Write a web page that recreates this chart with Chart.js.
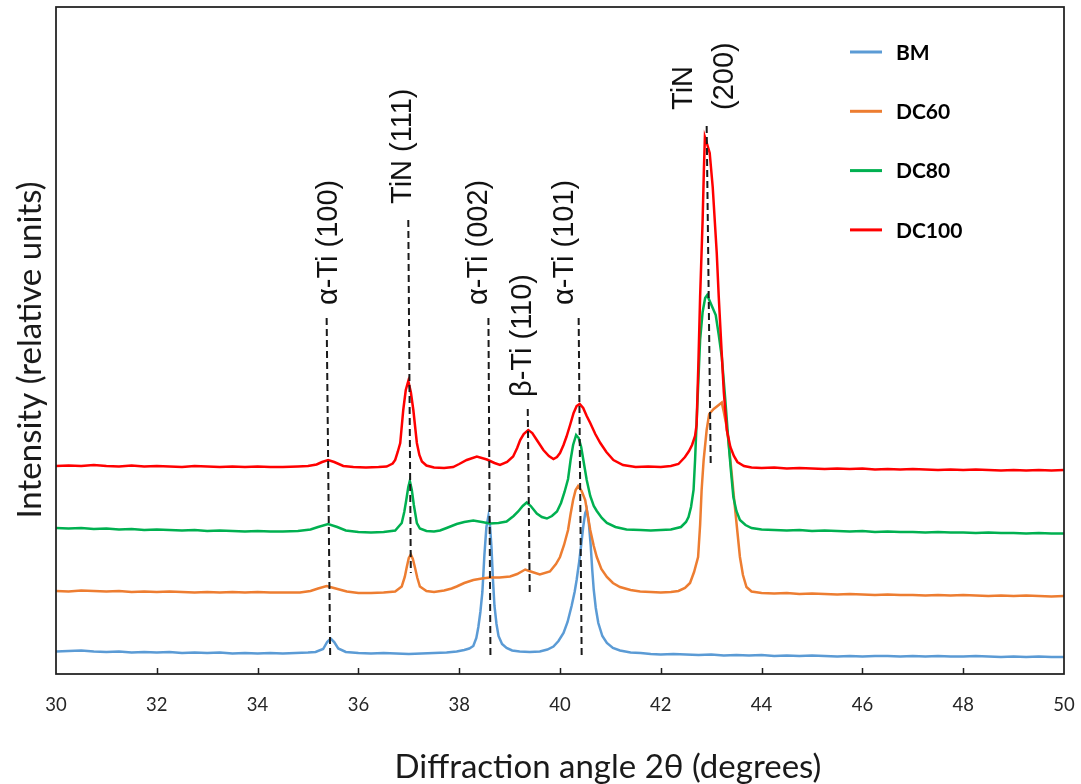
<!DOCTYPE html>
<html>
<head>
<meta charset="utf-8">
<title>XRD patterns</title>
<script src="https://cdn.jsdelivr.net/npm/chart.js@4/dist/chart.umd.min.js"></script>
<style>
  html, body { margin: 0; padding: 0; background: #ffffff; }
  #wrap { width: 1081px; height: 784px; }
</style>
</head>
<body>
<div id="wrap"><canvas id="xrd" width="1081" height="784"></canvas></div>
<script>
// Diffraction patterns: [2θ (degrees), intensity (relative units, stacked)]
const BM = [
  [30,22.5],[30.25,23],[30.5,23.5],[30.75,22.5],[31,22],[31.25,22.5],[31.5,21.5],[31.75,22],[32,21.5],[32.25,22],
  [32.5,21],[32.75,21.5],[33,21],[33.25,21.5],[33.5,20.5],[33.75,21],[34,20.5],[34.25,21],[34.5,20.5],[34.75,21],
  [35,21.5],[35.15,22],[35.3,25],[35.38,32],[35.45,35.5],[35.52,32],[35.6,25.5],[35.75,22],[36,21],[36.25,20.5],
  [36.5,21],[36.75,20.5],[37,20],[37.25,20.5],[37.5,21],[37.75,21.5],[37.95,22.5],[38.1,24],[38.2,25.5],[38.28,28],
  [38.34,36],[38.38,47],[38.42,62],[38.46,82],[38.5,119],[38.54,147],[38.58,158],[38.61,149],[38.64,127],[38.67,94],
  [38.7,68],[38.74,50],[38.78,38],[38.85,30],[38.94,26],[39.05,23.5],[39.2,22.5],[39.4,22],[39.6,22.5],[39.75,24.5],
  [39.87,27.5],[39.97,33],[40.07,41],[40.15,52],[40.23,68],[40.29,82],[40.33,94],[40.38,112],[40.42,129],[40.46,147],
  [40.5,161],[40.53,164.5],[40.57,152],[40.61,128],[40.64,104],[40.67,84],[40.71,66],[40.76,51],[40.84,38],[40.93,31],
  [41.05,26],[41.19,23.5],[41.4,21.5],[41.6,21],[41.8,20],[42,19.5],[42.25,20],[42.5,19.5],[42.75,19],[43,19.5],
  [43.25,18.5],[43.5,19],[43.75,18.5],[44,19],[44.25,18],[44.5,18.5],[44.75,18],[45,18.5],[45.25,18],[45.5,17.5],
  [45.75,18],[46,17.5],[46.25,18],[46.5,18],[46.75,17.5],[47,18],[47.25,17.5],[47.5,18],[47.75,17.5],[48,17.5],
  [48.25,18],[48.5,17.5],[48.75,17],[49,17.5],[49.25,17],[49.5,17.5],[49.75,17],[50,17]
];

const DC60 = [
  [30,83],[30.25,82.5],[30.5,83.5],[30.75,83],[31,82.5],[31.25,83],[31.5,82],[31.75,82.5],[32,82],[32.25,82.5],
  [32.5,82],[32.75,81.5],[33,82],[33.25,81.5],[33.5,82],[33.75,81.5],[34,82],[34.25,81.5],[34.5,81.5],[34.84,81.5],
  [35.05,83],[35.2,85.5],[35.37,88],[35.55,85.5],[35.77,82.5],[36,81],[36.25,81],[36.5,81.5],[36.73,82.5],[36.86,87.5],
  [36.92,97],[36.96,107],[37,116],[37.04,119.5],[37.08,115],[37.12,107],[37.17,96],[37.22,87.5],[37.35,83],[37.5,82],
  [37.7,83.5],[37.85,85.5],[37.95,87.5],[38.1,91],[38.28,94],[38.45,95.5],[38.61,96.5],[38.8,96.5],[39.01,97.5],[39.15,100],
  [39.31,104.5],[39.45,102],[39.6,99.5],[39.8,102.5],[39.92,110],[40,117],[40.08,129],[40.16,144],[40.21,160],[40.26,174],
  [40.31,184],[40.36,188],[40.43,183],[40.5,174],[40.55,159],[40.6,144],[40.67,128],[40.73,117],[40.82,105],[40.93,97],
  [41.05,91],[41.19,87],[41.4,84],[41.59,82.5],[41.8,82],[42,81.5],[42.2,82],[42.35,83],[42.48,86],[42.58,91],
  [42.66,102],[42.74,117],[42.78,149],[42.81,184],[42.85,214],[42.91,244],[42.96,260],[43.05,265],[43.15,269],[43.21,271.5],
  [43.25,262],[43.3,249],[43.34,234],[43.4,204],[43.47,167],[43.52,142],[43.57,117],[43.63,99],[43.7,87],[43.8,82.5],
  [44,81],[44.25,80.5],[44.5,81],[44.75,80],[45,80.5],[45.25,80],[45.5,79.5],[45.75,80],[46,79.5],[46.25,79],
  [46.5,79.5],[46.75,79],[47,79],[47.25,78.5],[47.5,79],[47.75,78.5],[48,79],[48.25,78.5],[48.5,78],[48.75,78.5],
  [49,78],[49.25,78.5],[49.5,78],[49.75,77.5],[50,78]
];

const DC80 = [
  [30,146],[30.25,145.5],[30.5,146],[30.75,145],[31,145.5],[31.25,144.5],[31.5,145],[31.75,144],[32,144.5],[32.25,144],
  [32.5,143.5],[32.75,144],[33,143],[33.25,143.5],[33.5,143],[33.75,142.5],[34,143],[34.25,142.5],[34.5,142.5],[34.8,143],
  [35.05,144.5],[35.2,147],[35.4,150],[35.58,147],[35.75,143.5],[36,142],[36.25,141.5],[36.5,142],[36.73,143.5],[36.86,151],
  [36.91,162],[36.95,174],[36.99,187],[37.02,193],[37.06,184],[37.1,169],[37.16,151],[37.22,145.5],[37.35,143],[37.5,142.5],
  [37.62,143.5],[37.75,146],[37.95,150],[38.1,152],[38.28,153.5],[38.45,152],[38.61,150.5],[38.78,151],[38.94,152.5],[39.08,158],
  [39.17,162.5],[39.26,168],[39.34,171.5],[39.42,168],[39.54,160.5],[39.64,157],[39.74,155.5],[39.84,158],[39.94,162.5],[40.02,171],
  [40.09,182],[40.16,195],[40.21,214],[40.26,229],[40.32,239],[40.37,236],[40.42,227],[40.47,212],[40.53,194],[40.6,178],
  [40.67,168],[40.73,163],[40.83,156],[40.93,151],[41.1,147],[41.32,144.5],[41.6,144],[41.8,143.5],[42,144],[42.2,144.5],
  [42.4,147],[42.5,152],[42.55,157],[42.6,167],[42.65,184],[42.68,214],[42.71,251],[42.75,299],[42.78,334],[42.83,362],
  [42.88,376],[42.92,379],[42.97,373],[43.03,366],[43.09,359],[43.15,339],[43.21,317],[43.28,274],[43.34,234],[43.39,204],
  [43.44,177],[43.5,163],[43.57,154],[43.68,149],[43.8,146],[44,144.5],[44.25,144],[44.5,143.5],[44.75,144],[45,143],
  [45.25,143.5],[45.5,143],[45.75,142.5],[46,143],[46.25,142],[46.5,142.5],[46.75,142],[47,142],[47.25,141.5],[47.5,142],
  [47.75,141.5],[48,141.5],[48.25,141],[48.5,141.5],[48.75,141],[49,141],[49.25,140.5],[49.5,141],[49.75,140.5],[50,140.5]
];

const DC100 = [
  [30,208],[30.25,208.5],[30.5,208],[30.75,209],[31,208],[31.25,207.5],[31.5,208.5],[31.75,207.5],[32,208],[32.25,207.5],
  [32.5,207],[32.75,208],[33,207.5],[33.25,207],[33.5,207.5],[33.75,207],[34,207.5],[34.25,207],[34.5,207],[34.8,207.5],
  [35,208],[35.17,209.5],[35.28,212],[35.4,214],[35.52,212],[35.7,208],[35.9,207],[36.15,206.5],[36.4,207],[36.56,207.5],
  [36.68,210.5],[36.73,214],[36.78,222],[36.83,231],[36.89,264],[36.94,284],[36.99,293],[37.04,282],[37.09,264],[37.16,231],
  [37.21,219],[37.26,212.5],[37.35,208.5],[37.5,206.5],[37.7,206],[37.88,207],[38,210],[38.15,214],[38.35,217.5],[38.55,214.5],
  [38.7,211],[38.81,209],[38.95,212],[39.07,217.5],[39.15,226],[39.21,234],[39.28,240],[39.37,244],[39.45,241],[39.54,234],
  [39.67,224],[39.78,218],[39.87,215],[39.94,217],[40,221],[40.07,229],[40.13,237.5],[40.2,249],[40.27,261],[40.33,268],
  [40.39,270],[40.46,266],[40.53,258],[40.6,251],[40.7,240],[40.8,231],[40.92,222],[41.06,214],[41.25,209],[41.5,207],
  [41.75,207.5],[42,207],[42.2,208],[42.35,210],[42.48,217],[42.56,223],[42.62,229],[42.68,238],[42.71,249],[42.745,309],
  [42.78,377],[42.83,454],[42.855,504],[42.875,537],[42.93,528],[42.97,521],[43.03,487],[43.11,421],[43.15,377],[43.2,329],
  [43.25,282],[43.31,244],[43.38,227],[43.45,218],[43.52,212],[43.65,208],[43.8,206.5],[44,206],[44.25,206.5],[44.5,205.5],
  [44.75,206],[45,205.5],[45.25,205],[45.5,205.5],[45.75,205],[46,205.5],[46.25,204.5],[46.5,205],[46.75,204.5],[47,205],
  [47.25,204.5],[47.5,204],[47.75,204.5],[48,204],[48.25,204.5],[48.5,204],[48.75,203.5],[49,204],[49.25,203.5],[49.5,204],
  [49.75,203.5],[50,204]
];

const seriesNames = ['BM', 'DC60', 'DC80', 'DC100'];
const seriesColors = ['#5B9BD5', '#ED7D31', '#00B050', '#FF0000'];

// Reflection markers: dashed guide from (top angle, top level) to (bottom angle, bottom level)
const reflectionNames = [['α-Ti (100)'], ['TiN (111)'], ['α-Ti (002)'], ['β-Ti (110)'], ['α-Ti (101)'], ['TiN', '(200)']];
const guideTopAngle = [35.37, 36.99, 38.58, 39.36, 40.37, 42.91];
const guideBottomAngle = [35.44, 37.04, 38.62, 39.40, 40.43, 42.99];
const guideTopLevel = [356, 454, 356, 265, 356, 548];
const guideBottomLevel = [17, 101, 17, 80, 17, 211];
// Where each rotated label starts (angle, level)
const labelAngle = [35.42, 36.88, 38.39, 39.27, 40.10, 42.46];
const labelLevel = [369, 470, 369, 277, 369, 564];

const angleTicks = [30, 32, 34, 36, 38, 40, 42, 44, 46, 48, 50];

const toPoints = rows => rows.map(r => ({ x: r[0], y: r[1] }));

const patternSets = [BM, DC60, DC80, DC100].map((rows, i) => ({
  label: seriesNames[i],
  data: toPoints(rows),
  borderColor: seriesColors[i],
  backgroundColor: seriesColors[i],
  borderWidth: 2.5,
  pointRadius: 0,
  tension: 0,
  fill: false,
  order: 3 - i,
  inLegend: true
}));

const guideSets = reflectionNames.map((n, i) => ({
  label: n.join(' '),
  data: [{ x: guideTopAngle[i], y: guideTopLevel[i] }, { x: guideBottomAngle[i], y: guideBottomLevel[i] }],
  borderColor: '#1a1a1a',
  borderWidth: 2,
  borderDash: [7, 4],
  pointRadius: 0,
  fill: false,
  order: -1,
  inLegend: false
}));

const decorations = {
  id: 'decorations',
  afterDraw(chart) {
    const { ctx, chartArea: a, scales: { x, y } } = chart;
    ctx.save();

    // plot frame
    ctx.strokeStyle = '#1f1f1f';
    ctx.lineWidth = 1.75;
    ctx.strokeRect(a.left, a.top, a.right - a.left, a.bottom - a.top);

    // inward tick marks on the angle axis
    ctx.lineWidth = 1.5;
    x.ticks.forEach(t => {
      if (t.value <= x.min || t.value >= x.max) return;
      const px = Math.round(x.getPixelForValue(t.value)) + 0.5;
      ctx.beginPath();
      ctx.moveTo(px, a.bottom);
      ctx.lineTo(px, a.bottom - 6);
      ctx.stroke();
    });

    // reflection labels, rotated to read upward
    ctx.fillStyle = '#111111';
    ctx.font = '29px "Liberation Sans", Arial, sans-serif';
    ctx.textAlign = 'left';
    ctx.textBaseline = 'middle';
    reflectionNames.forEach((lines, i) => {
      const px = x.getPixelForValue(labelAngle[i]);
      const py = y.getPixelForValue(labelLevel[i]);
      ctx.save();
      ctx.translate(px, py);
      ctx.rotate(-Math.PI / 2);
      lines.forEach((txt, k) => ctx.fillText(txt, 0, k * 41));
      ctx.restore();
    });

    // axis titles
    ctx.fillStyle = '#1a1a1a';
    ctx.font = '33px Lato, "Open Sans", sans-serif';
    ctx.textAlign = 'center';
    ctx.textBaseline = 'middle';
    ctx.fillText('Diffraction angle 2θ (degrees)', 608, 767);
    ctx.save();
    ctx.translate(30, 350);
    ctx.rotate(-Math.PI / 2);
    ctx.fillText('Intensity (relative units)', 0, 0);
    ctx.restore();

    // legend
    ctx.font = 'bold 21px Lato, "Open Sans", sans-serif';
    ctx.textAlign = 'left';
    ctx.textBaseline = 'middle';
    const rows = chart.data.datasets.filter(d => d.inLegend);
    rows.forEach((d, i) => {
      const ly = 52 + i * 59.3;
      ctx.strokeStyle = d.borderColor;
      ctx.lineWidth = 3;
      ctx.beginPath();
      ctx.moveTo(850, ly);
      ctx.lineTo(882, ly);
      ctx.stroke();
      ctx.fillStyle = '#000000';
      ctx.fillText(d.label, 896, ly + 1);
    });

    ctx.restore();
  }
};

new Chart(document.getElementById('xrd'), {
  type: 'line',
  data: { datasets: [...patternSets, ...guideSets] },
  options: {
    responsive: false,
    animation: false,
    devicePixelRatio: 1,
    events: [],
    layout: { padding: { left: 56, right: 17, top: 7, bottom: 0 } },
    plugins: { legend: { display: false }, tooltip: { enabled: false } },
    scales: {
      x: {
        type: 'linear',
        min: 30,
        max: 50,
        afterFit(s) { s.height = 110; s.paddingLeft = 0; s.paddingRight = 0; },
        afterBuildTicks(s) { s.ticks = angleTicks.map(v => ({ value: v })); },
        grid: { display: false, drawTicks: false },
        border: { display: false },
        ticks: {
          padding: 20,
          maxRotation: 0,
          autoSkip: false,
          color: '#262626',
          font: { family: 'Lato', size: 18.5 }
        }
      },
      y: {
        type: 'linear',
        display: false,
        min: 0,
        max: 667
      }
    }
  },
  plugins: [decorations]
});
</script>
</body>
</html>
